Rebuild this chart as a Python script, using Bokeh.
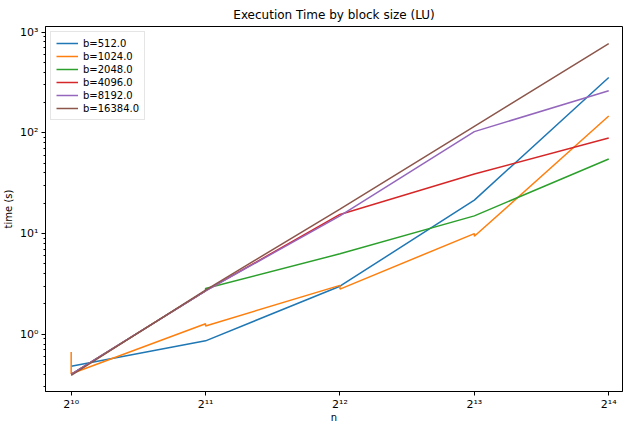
from bokeh.plotting import figure
from bokeh.models import FixedTicker, Range1d, Legend, LegendItem
from bokeh.embed import file_html
from bokeh.resources import INLINE

# ---- data ----
n_values = [1024, 2048, 4096, 8192, 16384]
x_tick_labels = ["2¹⁰", "2¹¹", "2¹²", "2¹³", "2¹⁴"]
y_major = [0.1, 1, 10, 100, 1000]
y_tick_labels = ["10⁻¹", "10⁰", "10¹", "10²", "10³"]

b512_n = [1024, 2048, 4096, 8192, 16384]
b512_t = [0.48, 0.86, 3.0, 21.5, 355]

b1024_n = [1024, 1024, 2048, 2048, 4096, 4096, 8192, 8192, 16384]
b1024_t = [0.665, 0.405, 1.27, 1.21, 3.06, 2.81, 10.0, 9.4, 147]

b2048_n = [1024, 2048, 2048, 4096, 8192, 16384]
b2048_t = [0.40, 2.7, 2.85, 6.3, 15.0, 55]

b4096_n = [1024, 2048, 4096, 8192, 16384]
b4096_t = [0.40, 2.7, 15.5, 39, 89]

b8192_n = [1024, 2048, 4096, 8192, 16384]
b8192_t = [0.40, 2.7, 15.0, 103, 262]

b16384_n = [1024, 2048, 4096, 8192, 16384]
b16384_t = [0.39, 2.75, 17.5, 116, 770]

labels = ["b=512.0", "b=1024.0", "b=2048.0", "b=4096.0", "b=8192.0", "b=16384.0"]
colors = ["#1f77b4", "#ff7f0e", "#2ca02c", "#d62728", "#9467bd", "#8c564b"]
series = [(b512_n, b512_t), (b1024_n, b1024_t), (b2048_n, b2048_t),
          (b4096_n, b4096_t), (b8192_n, b8192_t), (b16384_n, b16384_t)]

p = figure(width=626, height=425, x_axis_type="log", y_axis_type="log",
           x_range=Range1d(897, 17590), y_range=Range1d(0.27, 1140),
           output_backend="svg", toolbar_location=None,
           title="Execution Time by block size (LU)",
           min_border_left=10, min_border_right=4, min_border_top=2, min_border_bottom=0)

p.title.align = "center"
p.title.text_font = "DejaVu Sans"
p.title.text_font_size = "12px"
p.title.text_font_style = "normal"
p.title.text_color = "#000000"

items = []
for (xs, ys), lab, col in zip(series, labels, colors):
    r = p.line(xs, ys, line_color=col, line_width=1.5)
    items.append(LegendItem(label=lab, renderers=[r]))

legend = Legend(items=items, location="top_left")
legend.label_text_font = "DejaVu Sans"
legend.label_text_font_size = "10px"
legend.label_text_color = "#000000"
legend.glyph_height = 12
legend.glyph_width = 22
legend.label_height = 12
legend.spacing = 1
legend.padding = 5
legend.margin = 5
legend.border_line_color = "#cccccc"
legend.border_line_width = 1
legend.background_fill_alpha = 0.85
p.add_layout(legend)

p.grid.visible = False
p.outline_line_color = "#000000"
p.outline_line_alpha = 1

p.xaxis.ticker = FixedTicker(ticks=n_values)
p.xaxis.major_label_overrides = {v: s for v, s in zip(n_values, x_tick_labels)}
p.yaxis.ticker = FixedTicker(ticks=y_major,
                             minor_ticks=[k * d for d in y_major for k in range(2, 10)])
p.yaxis.major_label_overrides = {v: s for v, s in zip(y_major, y_tick_labels)}

p.xaxis.axis_label = "n"
p.yaxis.axis_label = "time (s)"
for ax in (p.xaxis, p.yaxis):
    ax.axis_label_text_font = "DejaVu Sans"
    ax.axis_label_text_font_size = "10px"
    ax.axis_label_text_font_style = "normal"
    ax.axis_label_text_color = "#000000"
    ax.major_label_text_font = "DejaVu Sans"
    ax.major_label_text_font_size = "11px"
    ax.major_label_text_color = "#000000"
    ax.axis_line_color = "#000000"
    ax.major_tick_line_color = "#000000"
    ax.minor_tick_line_color = "#000000"
    ax.major_tick_out = 4
    ax.major_tick_in = 0
    ax.minor_tick_out = 2
    ax.minor_tick_in = 0
    ax.major_label_standoff = 3
    ax.axis_label_standoff = 3
p.xaxis.minor_tick_line_color = None
p.xaxis.major_label_standoff = 2
p.xaxis.axis_label_standoff = -2

open("out.html", "w").write(file_html(p, INLINE))
